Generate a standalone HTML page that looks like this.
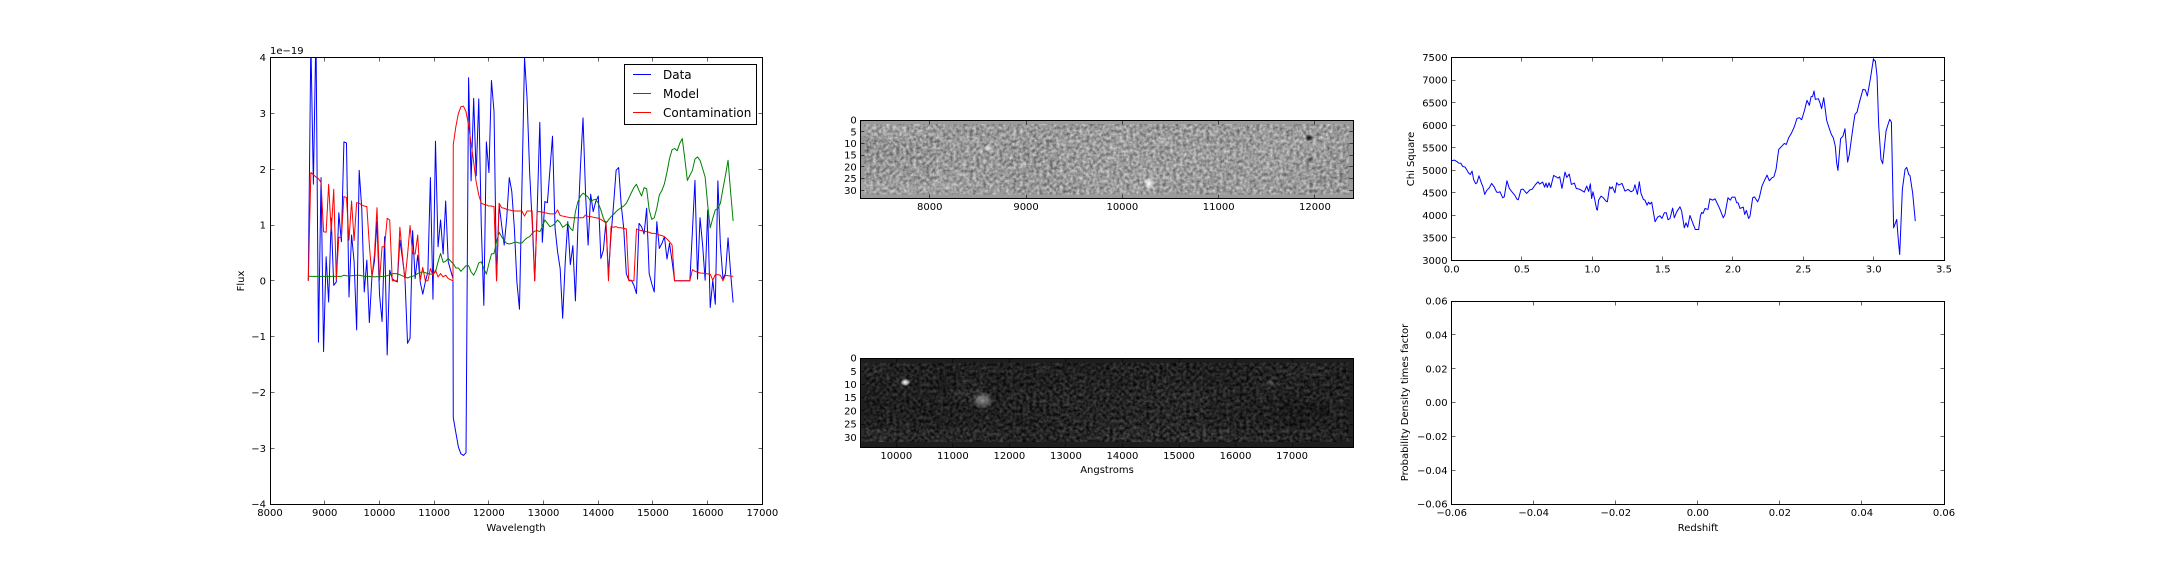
<!DOCTYPE html>
<html lang="en">
<head>
<meta charset="utf-8">
<title>Grism spectrum fit figure</title>
<style>
html,body{margin:0;padding:0;background:#fff;width:2160px;height:576px;overflow:hidden}
svg{display:block}
text{font-family:"DejaVu Sans","Liberation Sans",sans-serif;font-size:10px;fill:#000}
.legend-text{font-size:12px}
</style>
</head>
<body>
<svg id="fig" xmlns="http://www.w3.org/2000/svg" width="2160" height="576" viewBox="0 0 2160 576">
<defs>
<filter id="grainA" x="0" y="0" width="100%" height="100%" color-interpolation-filters="sRGB">
<feTurbulence type="fractalNoise" baseFrequency="0.3" numOctaves="2" seed="4"/>
<feColorMatrix type="matrix" values="0.8 0 0 0 0.1  0.8 0 0 0 0.1  0.8 0 0 0 0.1  0 0 0 0 1"/>
</filter>
<filter id="grainB" x="0" y="0" width="100%" height="100%" color-interpolation-filters="sRGB">
<feTurbulence type="fractalNoise" baseFrequency="0.3" numOctaves="2" seed="11"/>
<feColorMatrix type="matrix" values="1.4 0 0 0 -0.2  1.4 0 0 0 -0.2  1.4 0 0 0 -0.2  0 0 0 0 1"/>
</filter>
<radialGradient id="blobLight"><stop offset="0" stop-color="#fff" stop-opacity="1"/><stop offset="0.55" stop-color="#fff" stop-opacity="0.6"/><stop offset="1" stop-color="#fff" stop-opacity="0"/></radialGradient>
<radialGradient id="blobDark"><stop offset="0" stop-color="#000" stop-opacity="1"/><stop offset="0.55" stop-color="#000" stop-opacity="0.6"/><stop offset="1" stop-color="#000" stop-opacity="0"/></radialGradient>
<clipPath id="clipSpectrum"><rect x="270" y="57.6" width="492.35" height="446.4"/></clipPath>
<clipPath id="clipChi"><rect x="1451.65" y="57.6" width="492.35" height="202.9"/></clipPath>
</defs>
<rect x="0" y="0" width="2160" height="576" fill="#fff"/>

<text x="516" y="531" text-anchor="middle">Wavelength</text>
<text transform="translate(244,281) rotate(-90)" text-anchor="middle">Flux</text>
<text x="270" y="54">1e−19</text>
<text x="1107" y="473" text-anchor="middle">Angstroms</text>
<text transform="translate(1414,159) rotate(-90)" text-anchor="middle">Chi Square</text>
<text transform="translate(1408,402.5) rotate(-90)" text-anchor="middle">Probability Density times factor</text>
<text x="1698" y="531" text-anchor="middle">Redshift</text>

<g id="layerSpectrum"></g>
<g id="layerImageTop"></g>
<g id="layerImageBottom"></g>
<g id="layerChi"></g>
<g id="layerProb"></g>

<g>
<rect x="624.5" y="64.5" width="132" height="60" fill="#fff" stroke="#000" stroke-width="1"/>
<line x1="633" y1="74.5" x2="651" y2="74.5" stroke="#0000ff"/>
<text class="legend-text" x="663" y="79">Data</text>
<line x1="633" y1="93.5" x2="651" y2="93.5" stroke="#008000"/>
<text class="legend-text" x="663" y="98">Model</text>
<line x1="633" y1="112.5" x2="651" y2="112.5" stroke="#ff0000"/>
<text class="legend-text" x="663" y="117">Contamination</text>
</g>
</svg>

<script>
const wavelengths=[8700,8747,8793,8840,8886,8933,8979,9026,9072,9119,
9165,9212,9258,9305,9351,9398,9444,9491,9537,9584,
9630,9677,9723,9770,9816,9863,9909,9956,10002,10049,
10095,10142,10188,10235,10281,10328,10374,10421,10467,10514,
10560,10607,10653,10700,10746,10793,10839,10886,10932,10979,
11025,11072,11118,11165,11211,11258,11345,11350,11397,11444,
11490,11537,11583,11630,11676,11723,11769,11816,11862,11909,
11955,12002,12048,12095,12141,12188,12234,12281,12327,12374,
12420,12467,12513,12560,12606,12653,12699,12746,12792,12839,
12885,12932,12978,13025,13071,13118,13164,13211,13257,13304,
13350,13397,13443,13490,13536,13583,13629,13676,13722,13769,
13815,13862,13908,13955,14001,14048,14094,14141,14187,14234,
14280,14327,14373,14420,14466,14513,14559,14606,14652,14699,
14745,14792,14838,14885,14931,14978,15024,15071,15117,15164,
15210,15257,15303,15350,15396,15443,15489,15536,15582,15629,
15675,15722,15768,15815,15861,15908,15954,16001,16047,16094,
16140,16187,16233,16280,16326,16373,16419,16466];
const dataFlux=[0,4.3,1.73,4.5,-1.1,1.85,-1.27,.43,-.38,1.12,
-.08,-.02,1.22,.7,2.49,2.47,-.29,.82,.35,-.88,
1.98,1.3,-.2,.37,-.75,.07,.35,1.06,-.25,-.73,
.79,-1.33,.19,.04,0,-.02,.73,.4,.04,-1.12,
-1.03,.9,.04,.46,-.02,-.24,-.02,.16,1.85,-.33,
2.5,.61,1.09,.48,1.43,.34,.04,-2.45,-2.72,-2.98,
-3.1,-3.13,-3.08,3.64,1.79,3.27,1.88,3.26,1,-.44,
2.49,1.94,3.59,3.03,0,1.37,1,.64,1.12,1.85,
1.6,.94,-.02,-.51,1.7,4,3.27,1.95,1.06,0,
1.3,2.84,.69,1.42,1.4,2,2.59,.94,.52,.22,
-.67,.34,1.06,.29,.63,-.36,1,2.07,2.92,1.54,
.64,1.55,1.24,1.42,1.52,.4,.55,1.06,.1,.82,
1.36,1.98,2.03,1.36,.94,.13,.01,.01,-.08,-.23,
1.03,.97,.84,1.3,.13,-.05,-.2,1.06,.58,.67,
.79,.39,.67,.35,0,0,0,0,0,0,
0,.9,1.8,.03,1.13,.64,.01,1.27,-.48,.01,
-.42,1.79,.64,.04,.13,.77,.15,-.39];
const modelFlux=[.08,.08,.08,.08,.08,.08,.08,.08,.08,.08,
.08,.08,.08,.08,.10,.09,.085,.09,.095,.1,
.1,.09,.08,.08,.08,.075,.07,.075,.075,.08,
.08,.09,.11,.125,.13,.125,.11,.09,.07,.05,
.07,.08,.1,.13,.15,.16,.145,.13,.12,.12,
.16,.34,.49,.33,.35,.40,.31,.31,.23,.23,
.17,.22,.27,.27,.16,.10,.19,.32,.34,.22,
.12,.31,.48,.49,.70,.87,.79,.72,.67,.66,
.67,.69,.69,.675,.68,.73,.77,.79,.85,.89,
.9,.88,.97,1.09,1.03,.97,.99,1.03,1.09,1.04,
.96,.99,1.03,.94,.9,1.24,1.42,1.52,1.57,1.54,
1.5,1.42,1.45,1.46,1.39,1.27,1.12,1.03,1.09,1.15,
1.19,1.24,1.28,1.31,1.34,1.39,1.48,1.58,1.67,1.73,
1.62,1.52,1.67,1.65,1.27,1.1,1.13,1.3,1.54,1.62,
1.74,1.95,2.19,2.35,2.37,2.33,2.46,2.55,2.19,1.8,
1.89,1.98,2.18,2.22,2.16,2.01,1.86,1.36,.95,1.12,
1.27,1.3,1.39,1.65,1.89,2.16,1.6,1.07];
const contaminationFlux=[0,1.94,1.9,1.86,1.83,1.76,.88,.87,1.73,.88,
1.64,.02,.78,.78,1.51,1.49,.73,1.43,.72,1.40,
1.39,1.36,1.34,1.33,.64,.07,.46,1.31,.01,.61,
.61,1.12,1.09,0,0,0,.96,.46,.01,.46,
.99,.49,.48,.82,.01,.24,0,0,.22,.1,
.19,.07,.13,.07,.1,.04,0,2.44,2.76,3.0,
3.12,3.13,3.03,2.79,2.46,2.13,1.77,1.54,1.39,1.37,
1.36,1.34,1.34,1.33,0,1.39,1.31,1.30,1.28,1.27,
1.26,1.25,1.25,1.25,1.25,1.16,1.25,1.25,1.25,0,
1.24,1.24,1.23,1.22,1.21,1.2,1.2,1.2,1.27,1.17,
1.16,1.15,1.14,1.13,1.13,1.13,1.13,1.13,1.13,1.18,
1.15,1.15,1.14,1.13,1.12,1.1,1.07,1.04,0,.97,
.96,.97,.95,.95,.94,.93,0,0,0,.93,
.91,.9,.89,.88,.87,.85,.85,.84,.82,.81,
.79,.75,.70,.64,0,0,0,0,0,0,
0,.2,.17,.155,.14,.137,.13,.125,.12,.01,
.11,.11,.1,0,.1,.09,.085,.08];
const spectrumXTicks=[8000,9000,10000,11000,12000,13000,14000,15000,16000,17000];
const spectrumYTicks=[-4,-3,-2,-1,0,1,2,3,4];

const chiRedshift=[0,.019,.036,.05,.066,.078,.095,.109,.121,.133,.145,.156,.171,.18,.194,.209,.223,.235,.249,.268,
.284,.303,.32,.332,.344,.363,.374,.393,.41,.434,.45,.462,.474,.493,.507,.533,.557,.571,.595,.614,
.626,.647,.661,.671,.68,.692,.704,.725,.742,.756,.768,.784,.806,.818,.836,.851,.872,.886,.908,.943,
.96,.974,.986,.995,1.005,1.017,1.031,1.036,1.045,1.062,1.078,1.097,1.107,1.123,1.133,1.142,1.161,1.173,1.187,1.211,
1.232,1.254,1.275,1.292,1.303,1.32,1.334,1.346,1.363,1.374,1.389,1.4,1.41,1.422,1.446,1.464,1.481,1.495,1.512,1.526,
1.538,1.552,1.571,1.583,1.6,1.623,1.635,1.654,1.666,1.678,1.694,1.718,1.732,1.756,1.768,1.777,1.787,1.801,1.822,1.836,
1.855,1.872,1.903,1.931,1.943,1.964,1.981,1.993,2.014,2.026,2.036,2.05,2.073,2.083,2.095,2.111,2.121,2.14,2.152,2.175,
2.187,2.206,2.227,2.242,2.258,2.277,2.291,2.306,2.325,2.348,2.365,2.379,2.396,2.417,2.436,2.455,2.472,2.488,2.507,2.526,
2.543,2.555,2.566,2.576,2.585,2.607,2.618,2.63,2.645,2.666,2.685,2.699,2.713,2.727,2.737,2.746,2.765,2.782,2.796,2.815,
2.827,2.851,2.867,2.882,2.898,2.924,2.941,2.955,2.976,2.998,3.012,3.024,3.036,3.052,3.064,3.088,3.1,3.114,3.126,3.142,
3.164,3.175,3.185,3.204,3.223,3.235,3.249,3.258,3.277,3.296];
const chiSquare=[5213,5227,5198,5161,5153,5087,5072,5005,4939,4909,4983,4798,4702,4724,4880,4739,4628,4465,4554,4613,
4709,4628,4517,4510,4524,4391,4413,4769,4598,4502,4443,4369,4347,4576,4584,4487,4569,4576,4680,4746,
4695,4739,4628,4717,4621,4724,4621,4887,4857,4828,4857,4598,4961,4843,4917,4687,4717,4598,4584,4517,
4650,4532,4702,4376,4524,4354,4132,4117,4339,4428,4391,4317,4302,4635,4591,4635,4502,4724,4672,4709,
4539,4576,4524,4554,4680,4465,4746,4487,4354,4339,4228,4295,4251,4295,3858,3962,3992,3932,4058,4058,
3903,3932,4162,3947,4080,4191,4095,3725,3836,3740,3999,3799,3688,3688,3984,4066,4043,4154,4132,4369,
4339,4369,4169,3947,4021,4391,4339,4406,4406,4280,4280,4154,4184,4021,4110,3932,3984,4391,4413,4302,
4391,4650,4798,4894,4769,4835,4857,5020,5464,5538,5597,5575,5723,5834,5967,6152,6167,6123,6315,6552,
6441,6633,6641,6759,6574,6589,6500,6367,6611,6108,5923,5797,5723,5538,5168,4998,5701,5760,5923,5183,
5353,5908,6241,6293,6500,6796,6781,6648,7018,7462,7425,7092,5982,5242,5146,5871,5997,6130,6071,3725,
3910,3466,3133,4576,5020,5065,4909,4887,4502,3873];
const chiXTicks=[0,.5,1,1.5,2,2.5,3,3.5];
const chiYTicks=[3000,3500,4000,4500,5000,5500,6000,6500,7000,7500];
const probTicks=[-.06,-.04,-.02,0,.02,.04,.06];

const imageRowTicks=[0,5,10,15,20,25,30];
const topImageXTicks=[8000,9000,10000,11000,12000];
const bottomImageXTicks=[10000,11000,12000,13000,14000,15000,16000,17000];
const topImageGrey=[
[160,162,158,155,152,152,155,154,152,156,156,155,152,156,155,152,156,154,154,152],
[148,150,150,152,155,155,152,150,156,155,158,154,156,155,154,154,158,158,158,156],
[148,148,150,152,154,152,150,150,156,156,158,156,156,158,156,156,160,158,156,152],
[152,150,150,154,154,154,150,150,154,156,156,158,156,158,156,154,158,156,152,150],
[152,152,152,158,154,154,150,152,156,158,156,158,158,156,154,156,156,154,152,150],
[162,160,160,160,158,156,154,152,152,156,158,158,154,154,154,156,156,154,152,154]];
const bottomImageGrey=[
[36,34,32,30,32,32,32,34,32,32,34,34,34,32,32,32,34,36,36,32],
[32,34,32,30,36,30,32,32,34,34,32,34,36,34,32,32,36,34,32,32],
[30,32,32,32,40,32,36,36,38,36,36,38,38,38,36,34,34,32,34,34],
[30,32,30,32,32,32,34,34,36,36,36,36,38,38,34,32,32,26,26,32],
[32,34,32,32,32,34,32,34,36,36,38,38,38,36,34,34,32,28,30,32],
[42,40,38,38,40,38,36,36,38,38,42,42,40,44,42,38,38,36,36,34]];
const topBlobWave=[10280,8610,8970,10420,11940,11950];
const topBlobRow=[27,12.2,19,9.2,7.6,16.6];
const topBlobStrength=[.95,.6,.35,.35,-.9,-.55];
const topBlobWaveSpread=[55,55,40,65,45,35];
const topBlobRowSpread=[2.6,1.6,1.6,1.4,1.5,1];
const bottomBlobWave=[10160,11530,11100,16620];
const bottomBlobRow=[9.2,16,13.4,9.5];
const bottomBlobStrength=[1,.45,.15,.2];
const bottomBlobWaveSpread=[90,190,110,80];
const bottomBlobRowSpread=[1.4,3.4,.8,1.3];

const NS='http://www.w3.org/2000/svg';
function mk(tag,attrs,parent,txt){
  const e=document.createElementNS(NS,tag);
  for(const k in attrs)e.setAttribute(k,attrs[k]);
  if(txt!==undefined)e.textContent=txt;
  parent.appendChild(e);
  return e;
}
function scale(d0,d1,p0,p1){return v=>p0+(v-d0)/(d1-d0)*(p1-p0);}
function snap(v){return Math.floor(v)+.5;}
function polyline(parent,xs,ys,sx,sy,color,clip){
  let d='';
  const n=Math.min(xs.length,ys.length);
  for(let i=0;i<n;i++)d+=(i?'L':'M')+sx(xs[i]).toFixed(2)+' '+sy(ys[i]).toFixed(2);
  const e=mk('path',{d:d,fill:'none',stroke:color,'stroke-width':1,'stroke-linejoin':'round'},parent);
  if(clip)e.setAttribute('clip-path','url(#'+clip+')');
  return e;
}
function minusText(s){return String(s).replace('-','\u2212');}
function axes(parent,box,sx,sy,xTicks,yTicks,xFmt,yFmt){
  const L=snap(box.l),R=snap(box.r),T=snap(box.t),B=snap(box.b);
  xTicks.forEach(v=>{
    const x=snap(sx(v));
    if(x>=L&&x<=R){
      const a=mk('line',{x1:x,y1:B,x2:x,y2:B-4,stroke:'#000','stroke-width':.6},parent);
      
      
      const b=mk('line',{x1:x,y1:T,x2:x,y2:T+4,stroke:'#000','stroke-width':.6},parent);
      
      
    }
    const t=mk('text',{x:sx(v),y:box.b+12,'text-anchor':'middle'},parent,minusText(xFmt(v)));
    
    
  });
  yTicks.forEach(v=>{
    const y=snap(sy(v));
    if(y>=T&&y<=B){
      const a=mk('line',{x1:L,y1:y,x2:L+4,y2:y,stroke:'#000','stroke-width':.6},parent);
      
      
      const b=mk('line',{x1:R,y1:y,x2:R-4,y2:y,stroke:'#000','stroke-width':.6},parent);
      
      
    }
    const t=mk('text',{x:box.l-4,y:sy(v)+3.6,'text-anchor':'end'},parent,minusText(yFmt(v)));
    
    
  });
  const f=mk('rect',{x:L,y:T,width:R-L,height:B-T,fill:'none',stroke:'#000','stroke-width':1},parent);
  
  
}
const plain=v=>String(v);

/* spectrum */
const specG=document.getElementById('layerSpectrum');
const specBox={l:270,r:762.35,t:57.6,b:504};
const specX=scale(8000,17000,specBox.l,specBox.r);
const specY=scale(-4,4,specBox.b,specBox.t);
const lineData=polyline(specG,wavelengths,dataFlux,specX,specY,'#0000ff','clipSpectrum');


const lineModel=polyline(specG,wavelengths,modelFlux,specX,specY,'#008000','clipSpectrum');


const lineCont=polyline(specG,wavelengths,contaminationFlux,specX,specY,'#ff0000','clipSpectrum');


axes(specG,specBox,specX,specY,spectrumXTicks,spectrumYTicks,plain,plain);

/* images */
function drawImage(parent,box,wave0,wave1,rowMax,baseColor,grid,filterId,bWave,bRow,bStr,bWS,bRS,xTicks,idPrefix){
  const sx=scale(wave0,wave1,box.l,box.r);
  const sy=scale(0,rowMax,box.t,box.b);
  const bg=mk('rect',{x:box.l,y:box.t,width:box.r-box.l,height:box.b-box.t,fill:baseColor},parent);
  
  
  const rowStart=1.8,rowEnd=31.6;
  const rh=(rowEnd-rowStart)/grid.length;
  grid.forEach((cols,r)=>{
    const cw=(wave1-wave0)/cols.length;
    cols.forEach((g,c)=>{
      const x0=sx(wave0+c*cw),x1=sx(wave0+(c+1)*cw),y0=sy(rowStart+r*rh),y1=sy(rowStart+(r+1)*rh);
      const cell=mk('rect',{x:x0.toFixed(2),y:y0.toFixed(2),width:(x1-x0+.3).toFixed(2),height:(y1-y0+.3).toFixed(2),fill:'rgb('+g+','+g+','+g+')'},parent);
      
      
    });
  });
  const grain=mk('rect',{x:box.l+4,y:sy(rowStart),width:box.r-box.l-8,height:sy(rowEnd)-sy(rowStart),filter:'url(#'+filterId+')',style:'mix-blend-mode:overlay'},parent);
  
  
  bWave.forEach((w,i)=>{
    const s=bStr[i];
    const rx=Math.abs(sx(w+bWS[i])-sx(w)),ry=Math.abs(sy(bRow[i]+bRS[i])-sy(bRow[i]));
    const blob=mk('ellipse',{cx:sx(w),cy:sy(bRow[i]),rx:rx,ry:ry,fill:s>0?'url(#blobLight)':'url(#blobDark)',opacity:Math.abs(s)},parent);
    
    
  });
  axes(parent,box,sx,sy,xTicks,imageRowTicks,plain,plain);
}
drawImage(document.getElementById('layerImageTop'),{l:860.8,r:1353.2,t:120,b:198},7284,12397,33.3,'#9a9a9a',topImageGrey,'grainA',topBlobWave,topBlobRow,topBlobStrength,topBlobWaveSpread,topBlobRowSpread,topImageXTicks,'direct-image');
drawImage(document.getElementById('layerImageBottom'),{l:860.8,r:1353.2,t:358,b:447},9372,18081,33.67,'#1e1e1e',bottomImageGrey,'grainB',bottomBlobWave,bottomBlobRow,bottomBlobStrength,bottomBlobWaveSpread,bottomBlobRowSpread,bottomImageXTicks,'grism-image');

/* chi square */
const chiG=document.getElementById('layerChi');
const chiBox={l:1451.65,r:1944,t:57.6,b:260.5};
const chiX=scale(0,3.5,chiBox.l,chiBox.r);
const chiY=scale(3000,7500,chiBox.b,chiBox.t);
const lineChi=polyline(chiG,chiRedshift,chiSquare,chiX,chiY,'#0000ff','clipChi');


axes(chiG,chiBox,chiX,chiY,chiXTicks,chiYTicks,v=>v.toFixed(1),plain);

/* probability */
const probG=document.getElementById('layerProb');
const probBox={l:1451.65,r:1944,t:301.1,b:504};
const probX=scale(-.06,.06,probBox.l,probBox.r);
const probY=scale(-.06,.06,probBox.b,probBox.t);
axes(probG,probBox,probX,probY,probTicks,probTicks,v=>v.toFixed(2),v=>v.toFixed(2));
</script>
</body>
</html>
